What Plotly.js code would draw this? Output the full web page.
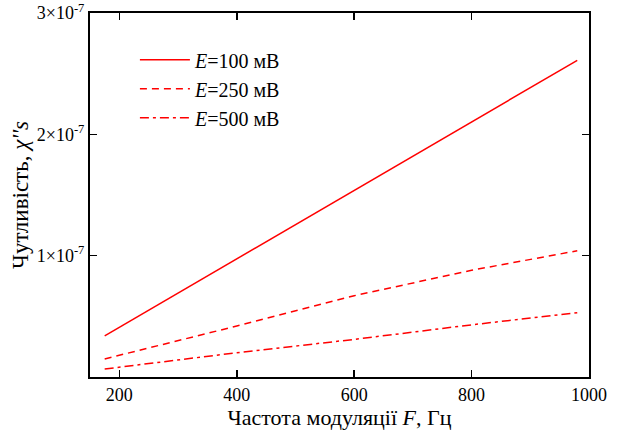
<!DOCTYPE html>
<html>
<head>
<meta charset="utf-8">
<script src="https://cdn.plot.ly/plotly-3.0.1.min.js"></script>
<style>html,body{margin:0;padding:0;background:#fff;}#chart{width:621px;height:435px;}</style>
</head>
<body>
<div id="chart"></div>
<script>
const freq = [175, 400, 600, 800, 980];
const chi100 = [0.339e-7, 0.975e-7, 1.537e-7, 2.10e-7, 2.61e-7];
const chi250 = [0.149e-7, 0.42e-7, 0.67e-7, 0.88e-7, 1.04e-7];
const chi500 = [0.066e-7, 0.20e-7, 0.31e-7, 0.43e-7, 0.53e-7];
const seriesNames = ['<i>E</i>=100 мВ', '<i>E</i>=250 мВ', '<i>E</i>=500 мВ'];
const yTickVals = [1e-7, 2e-7, 3e-7];
const yTickText = ['1×10<sup>-7</sup>', '2×10<sup>-7</sup>', '3×10<sup>-7</sup>'];
const xTickVals = [200, 400, 600, 800, 1000];

const font = '"Liberation Serif", "Times New Roman", serif';
const red = '#ff0000';
const traces = [
  {x: freq, y: chi100, name: seriesNames[0], mode: 'lines', line: {color: red, width: 1.5}, legendgroup: 'a'},
  {x: freq, y: chi250, name: seriesNames[1], mode: 'lines', line: {color: red, width: 1.5, dash: '7px,5px'}, legendgroup: 'b'},
  {x: freq, y: chi500, name: seriesNames[2], mode: 'lines', line: {color: red, width: 1.5, dash: '9px,4px,3px,4px'}, legendgroup: 'c'}
];
const axisCommon = {
  showline: true, linecolor: '#000', linewidth: 2, mirror: 'ticks',
  ticks: 'inside', ticklen: 7, tickwidth: 1.5, tickcolor: '#000',
  showgrid: false, zeroline: false,
  tickfont: {family: font, size: 18, color: '#000'}
};
const layout = {
  width: 621, height: 435,
  margin: {l: 90, r: 32, t: 13, b: 58},
  paper_bgcolor: '#fff', plot_bgcolor: '#fff',
  font: {family: font, color: '#000'},
  xaxis: Object.assign({}, axisCommon, {
    range: [150, 1000], tickvals: xTickVals,
    title: {text: 'Частота модуляції <i>F</i>, Гц', font: {family: font, size: 22, color: '#000'}, standoff: 0}
  }),
  yaxis: Object.assign({}, axisCommon, {
    range: [0, 3e-7], tickvals: yTickVals, ticktext: yTickText,
    title: {text: 'Чутливість, <i>χ\'\'s</i>', font: {family: font, size: 23, color: '#000'}, standoff: 2}
  }),
  showlegend: true,
  legend: {
    x: 0.09, y: 0.925, xanchor: 'left', yanchor: 'top',
    bgcolor: 'rgba(0,0,0,0)', font: {family: font, size: 20, color: '#000'},
    traceorder: 'grouped', tracegroupgap: 0, itemwidth: 50
  }
};
Plotly.newPlot('chart', traces, layout, {displayModeBar: false, staticPlot: true});
</script>
</body>
</html>
